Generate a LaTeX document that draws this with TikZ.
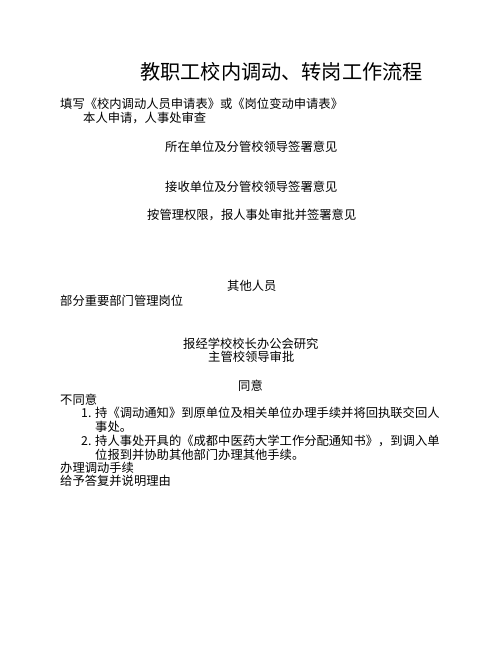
\documentclass[tikz,border=0pt]{standalone}
\usepackage{fontspec}
\setmainfont{Liberation Serif}
\newfontfamily\cjk{Noto Sans CJK SC}
\begin{document}
\begin{tikzpicture}[x=1pt,y=1pt,
  txt/.style={anchor=west,inner sep=0pt,font=\cjk\fontsize{12.3}{14}\selectfont},
  ttl/.style={anchor=west,inner sep=0pt,font=\cjk\fontsize{20.2}{24}\selectfont}]
\useasboundingbox[fill=white] (0,0) rectangle (502,-649);
\node[ttl] (title) at (140,-72) {教职工校内调动、转岗工作流程};
\node[txt] (fill) at (60,-104) {填写《校内调动人员申请表》或《岗位变动申请表》};
\node[txt] (apply) at (83,-118) {本人申请，人事处审查};
\node[txt] (orig) at (165,-147) {所在单位及分管校领导签署意见};
\node[txt] (recv) at (165,-187) {接收单位及分管校领导签署意见};
\node[txt] (perm) at (147,-215) {按管理权限，报人事处审批并签署意见};
\node[txt] (other) at (227,-286) {其他人员};
\node[txt] (key) at (60,-301) {部分重要部门管理岗位};
\node[txt] (meet) at (183,-344) {报经学校校长办公会研究};
\node[txt] (lead) at (208,-357) {主管校领导审批};
\node[txt] (agree) at (238,-386) {同意};
\node[txt] (disagree) at (60,-400) {不同意};
\node[txt] (n1) at (81,-413) {1.};
\node[txt] (s1a) at (95,-413) {持《调动通知》到原单位及相关单位办理手续并将回执联交回人};
\node[txt] (s1b) at (95,-427) {事处。};
\node[txt] (n2) at (81,-441) {2.};
\node[txt] (s2a) at (95,-441) {持人事处开具的《成都中医药大学工作分配通知书》，到调入单};
\node[txt] (s2b) at (95,-455) {位报到并协助其他部门办理其他手续。};
\node[txt] (handle) at (60,-468) {办理调动手续};
\node[txt] (reply) at (60,-481) {给予答复并说明理由};
\end{tikzpicture}
\end{document}
